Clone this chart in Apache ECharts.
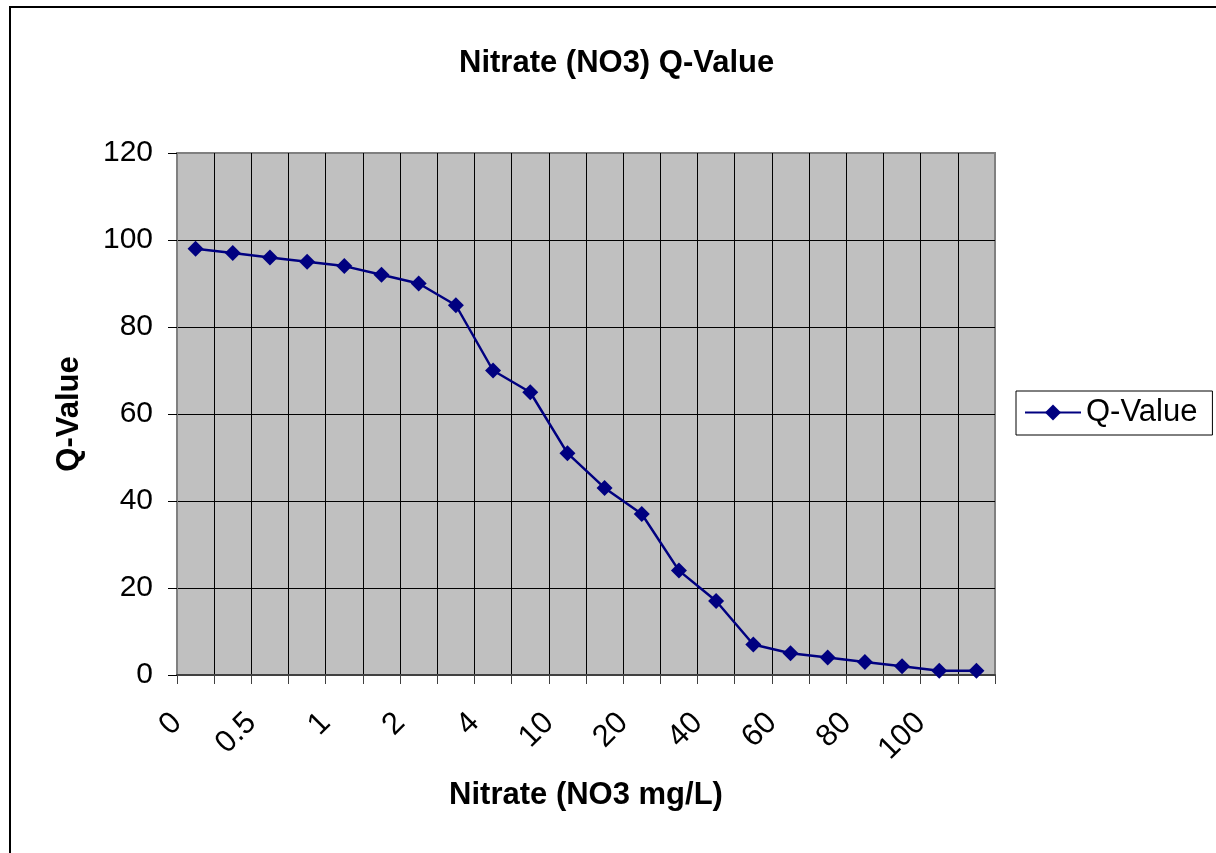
<!DOCTYPE html>
<html>
<head>
<meta charset="utf-8">
<script src="https://cdn.jsdelivr.net/npm/echarts@6/dist/echarts.min.js"></script>
<style>
html,body{margin:0;padding:0;background:#fff;}
#chart{width:1216px;height:853px;}
</style>
</head>
<body>
<div id="chart"></div>
<script>
// Tick labels shown at every other category boundary
const tickLabels = ["0", "0.5", "1", "2", "4", "10", "20", "40", "60", "80", "100"];
// Q-values for each of the 22 category slots
const qValues = [98, 97, 96, 95, 94, 92, 90, 85, 70, 65, 51, 43, 37, 24, 17, 7, 5, 4, 3, 2, 1, 1];
const seriesName = "Q-Value";
const chartTitle = "Nitrate (NO3) Q-Value";
const xTitle = "Nitrate (NO3 mg/L)";
const yTitle = "Q-Value";

const nCats = qValues.length;
const font = "Liberation Sans, Arial, sans-serif";

const chart = echarts.init(document.getElementById('chart'), null, {renderer: 'canvas'});
chart.setOption({
  animation: false,
  backgroundColor: '#ffffff',
  title: {
    text: chartTitle,
    left: 454,
    top: 43,
    textStyle: {fontFamily: font, fontSize: 31, fontWeight: 'bold', color: '#000'}
  },
  legend: {
    left: 1016,
    top: 391,
    orient: 'vertical',
    borderColor: '#000',
    borderWidth: 1,
    padding: [6, 15, 7, 8],
    itemWidth: 56,
    itemHeight: 20,
    itemGap: 0,
    textStyle: {fontFamily: font, fontSize: 31, color: '#000'},
    data: [seriesName]
  },
  grid: {
    left: 177, top: 153, width: 818, height: 522,
    show: true,
    backgroundColor: '#C0C0C0',
    borderColor: '#808080',
    borderWidth: 2
  },
  xAxis: {
    type: 'value',
    min: 0, max: nCats, interval: 1,
    name: xTitle,
    nameLocation: 'middle',
    nameGap: 105,
    nameTextStyle: {fontFamily: font, fontSize: 31, fontWeight: 'bold', color: '#000'},
    axisLine: {show: true, onZero: false, lineStyle: {color: '#404040', width: 2}},
    axisTick: {show: true, inside: false, length: 9, lineStyle: {color: '#404040', width: 1}},
    axisLabel: {
      show: true,
      rotate: 45,
      margin: 43,
      fontFamily: font, fontSize: 31, color: '#000',
      showMinLabel: true, showMaxLabel: true,
      formatter: function (v) {
        const k = Math.round(v);
        return (k % 2 === 0 && tickLabels[k / 2] !== undefined) ? tickLabels[k / 2] : '';
      }
    },
    splitLine: {show: true, showMinLine: false, showMaxLine: false, lineStyle: {color: '#000', width: 1}}
  },
  yAxis: {
    type: 'value',
    min: 0, max: 120, interval: 20,
    name: yTitle,
    nameLocation: 'middle',
    nameGap: 92,
    nameRotate: 90,
    nameTextStyle: {fontFamily: font, fontSize: 31, fontWeight: 'bold', color: '#000'},
    axisLine: {show: true, lineStyle: {color: '#808080', width: 2}},
    axisTick: {show: true, inside: false, length: 9, lineStyle: {color: '#000', width: 1}},
    axisLabel: {margin: 24, fontFamily: font, fontSize: 30, color: '#000'},
    splitLine: {show: true, showMinLine: false, showMaxLine: false, lineStyle: {color: '#000', width: 1}}
  },
  graphic: [{
    type: 'rect',
    shape: {x: 10, y: 7, width: 1230, height: 870},
    style: {fill: 'none', stroke: '#000', lineWidth: 2},
    silent: true,
    z: 100
  }],
  series: [{
    name: seriesName,
    type: 'line',
    data: qValues.map(function (v, i) { return [i + 0.5, v]; }),
    color: '#000080',
    lineStyle: {color: '#000080', width: 2.5},
    itemStyle: {color: '#000080'},
    symbol: 'diamond',
    symbolSize: [16, 16],
    showAllSymbol: true
  }]
});
</script>
</body>
</html>
